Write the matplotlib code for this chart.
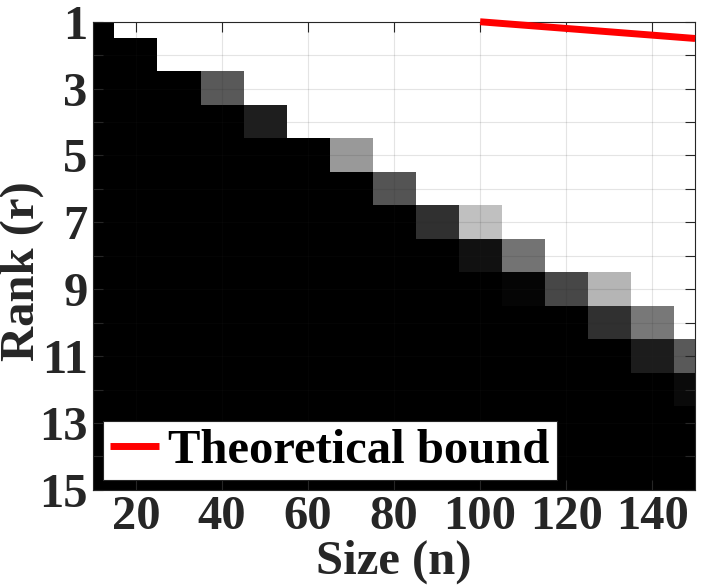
import matplotlib
matplotlib.use("Agg")
import matplotlib.pyplot as plt
import numpy as np

# matrix sizes (columns) and ranks (rows)
sizes = [10, 20, 30, 40, 50, 60, 70, 80, 90, 100, 110, 120, 130, 140, 150]
ranks = list(range(1, 16))

# empirical recovery rate, one row per rank
success = [
    [0, 1, 1, 1, 1, 1, 1, 1, 1, 1, 1, 1, 1, 1, 1],
    [0, 0, 1, 1, 1, 1, 1, 1, 1, 1, 1, 1, 1, 1, 1],
    [0, 0, 0, 0.35, 1, 1, 1, 1, 1, 1, 1, 1, 1, 1, 1],
    [0, 0, 0, 0, 0.12, 1, 1, 1, 1, 1, 1, 1, 1, 1, 1],
    [0, 0, 0, 0, 0, 0, 0.60, 1, 1, 1, 1, 1, 1, 1, 1],
    [0, 0, 0, 0, 0, 0, 0, 0.33, 1, 1, 1, 1, 1, 1, 1],
    [0, 0, 0, 0, 0, 0, 0, 0, 0.19, 0.75, 1, 1, 1, 1, 1],
    [0, 0, 0, 0, 0, 0, 0, 0, 0, 0.07, 0.45, 1, 1, 1, 1],
    [0, 0, 0, 0, 0, 0, 0, 0, 0, 0, 0.02, 0.28, 0.71, 1, 1],
    [0, 0, 0, 0, 0, 0, 0, 0, 0, 0, 0, 0, 0.19, 0.47, 1],
    [0, 0, 0, 0, 0, 0, 0, 0, 0, 0, 0, 0, 0, 0.11, 0.35],
    [0, 0, 0, 0, 0, 0, 0, 0, 0, 0, 0, 0, 0, 0, 0.04],
    [0, 0, 0, 0, 0, 0, 0, 0, 0, 0, 0, 0, 0, 0, 0],
    [0, 0, 0, 0, 0, 0, 0, 0, 0, 0, 0, 0, 0, 0, 0],
    [0, 0, 0, 0, 0, 0, 0, 0, 0, 0, 0, 0, 0, 0, 0],
]

# theoretical bound (visible part)
bound_n = [100, 150]
bound_r = [1.0, 1.5]

xticks = [20, 40, 60, 80, 100, 120, 140]

plt.rcParams['font.family'] = ['Liberation Serif', 'DejaVu Serif']
plt.rcParams['font.weight'] = 'bold'
plt.rcParams['axes.labelweight'] = 'bold'
plt.rcParams['font.size'] = 35

fig = plt.figure(figsize=(7.05, 5.88), dpi=100)
ax = fig.add_axes([0.132, 0.167, 0.854, 0.796])

dn = sizes[1] - sizes[0]
ax.imshow(np.array(success), cmap='gray', vmin=0, vmax=1,
          interpolation='nearest', aspect='auto',
          extent=[sizes[0] - dn / 2, sizes[-1] + dn / 2,
                  ranks[-1] + 0.5, ranks[0] - 0.5])

ax.plot(bound_n, bound_r, color='red', linewidth=5,
        solid_capstyle='butt', clip_on=False, label='Theoretical bound',
        zorder=5)

ax.set_xlim(10, 150)
ax.set_ylim(15, 1)
ax.set_xticks(xticks)
ax.set_yticks(ranks)
ax.set_yticklabels([str(r) if r % 2 == 1 else '' for r in ranks])

ax.grid(True, color='#262626', alpha=0.12, linewidth=0.8)
ax.set_axisbelow(False)
ax.tick_params(direction='in', length=7, width=0.8, colors='#262626',
               top=True, right=True, pad=4)
for lab in ax.get_xticklabels() + ax.get_yticklabels():
    lab.set_color('#262626')
for sp in ax.spines.values():
    sp.set_color('#262626')
    sp.set_linewidth(0.8)

ax.set_xlabel('Size (n)', color='#262626', fontweight='bold', labelpad=0)
ax.set_ylabel('Rank (r)', color='#262626', fontweight='bold')
ax.yaxis.set_label_coords(-0.082, 0.468)

leg = ax.legend(loc='lower left', fontsize=35, handlelength=1.0,
                handletextpad=0.2, borderpad=0.15, borderaxespad=0.2,
                fancybox=False, framealpha=1)
leg.get_frame().set_edgecolor('#262626')
leg.get_frame().set_linewidth(0.8)

fig.savefig('out.png', dpi=100)
